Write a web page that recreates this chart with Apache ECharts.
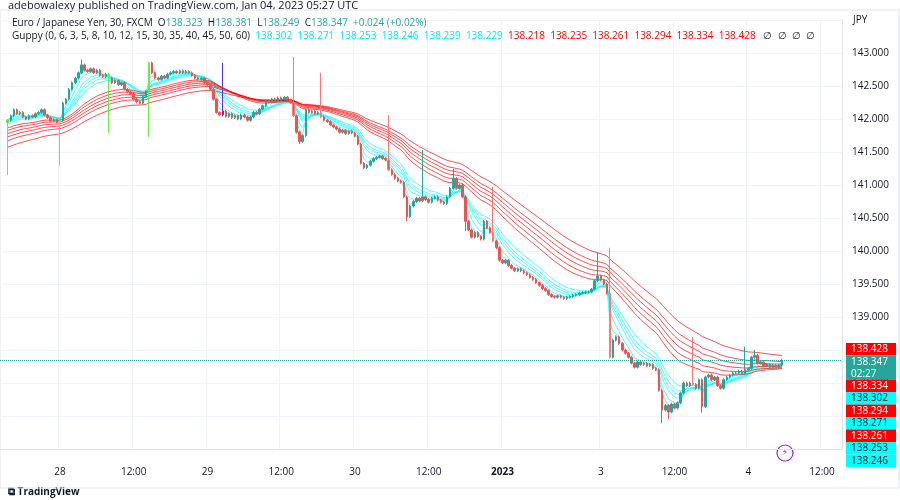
<!doctype html>
<html>
<head>
<meta charset="UTF-8">
<script src="https://cdn.jsdelivr.net/npm/echarts@6/dist/echarts.min.js"></script>
<style>body{margin:0;background:#fff}#chart{width:900px;height:500px}</style>
</head>
<body>
<div id="chart"></div>
<script>
// 30-minute closes (index 0 = first candle on the left)
var closes = [
 141.98,142.05,142.14,142.08,142.10,142.03,142.00,142.05,142.03,142.08,
 142.10,142.14,142.06,142.02,141.97,141.99,141.95,141.98,142.24,142.30,
 142.45,142.55,142.62,142.70,142.82,142.74,142.72,142.76,142.70,142.74,
 142.66,142.64,142.68,142.62,142.55,142.58,142.52,142.55,142.45,142.41,
 142.38,142.30,142.26,142.24,142.34,142.42,142.85,142.70,142.62,142.60,
 142.65,142.62,142.68,142.70,142.72,142.70,142.73,142.70,142.72,142.70,
 142.66,142.62,142.60,142.62,142.55,142.52,142.45,142.30,142.10,142.06,
 142.12,142.04,142.08,142.02,142.05,142.00,142.06,142.03,141.98,142.03,
 142.10,142.08,142.15,142.20,142.28,142.26,142.30,142.28,142.32,142.30,
 142.33,142.29,142.25,142.05,141.80,141.66,141.75,142.14,142.10,142.12,
 142.08,142.10,142.03,141.98,141.96,141.91,141.88,141.85,141.80,141.83,
 141.78,141.82,141.79,141.74,141.62,141.33,141.26,141.30,141.36,141.40,
 141.42,141.44,141.40,141.38,141.23,141.16,141.10,141.06,141.04,140.82,
 140.52,140.68,140.75,140.80,140.76,140.82,140.78,140.74,140.80,140.82,
 140.77,140.74,140.72,140.82,140.95,141.10,140.95,141.00,140.82,140.45,
 140.32,140.21,140.28,140.22,140.18,140.45,140.35,140.28,140.15,140.05,
 139.86,139.82,139.86,139.78,139.74,139.70,139.73,139.70,139.67,139.64,
 139.60,139.57,139.52,139.48,139.43,139.40,139.34,139.31,139.30,139.32,
 139.30,139.28,139.30,139.31,139.33,139.34,139.36,139.37,139.38,139.38,
 139.42,139.55,139.62,139.56,139.50,139.36,138.39,138.65,138.70,138.60,
 138.50,138.45,138.39,138.30,138.24,138.32,138.28,138.30,138.26,138.28,
 138.22,138.20,137.89,137.59,137.66,137.56,137.68,137.62,137.70,137.85,
 138.00,137.96,138.00,137.98,137.92,138.05,137.64,138.09,138.12,138.05,
 138.09,137.96,137.92,138.05,138.09,138.12,138.15,138.15,138.18,138.14,
 138.20,138.22,138.39,138.42,138.30,138.32,138.26,138.28,138.24,138.27,
 138.24,138.27,138.347
];
var firstOpen = 141.95;
// long wicks: [index, price]
var highWicks = [[24,142.90],[46,142.87],[70,142.85],[93,142.94],[102,142.70],[124,142.06],
  [135,141.53],[145,141.25],[158,140.97],[192,139.98],[196,140.05],[223,138.70],[240,138.55],[243,138.50]];
var lowWicks = [[0,141.15],[17,141.29],[33,141.79],[46,141.73],[95,141.62],[130,140.45],
  [213,137.39],[215,137.45],[226,137.55],[149,140.30]];
// bars painted in a special colour on the reference
var greenBars = [0, 17, 33, 46];
var purpleBars = [70];
var xTicks = [[17,'28'],[41,'12:00'],[65,'29'],[89,'12:00'],[113,'30'],[137,'12:00'],
  [161,'2023'],[193,'3'],[217,'12:00'],[241,'4'],[265,'12:00']];
var fastPeriods = [3,5,8,10,12,15];
var slowPeriods = [30,35,40,45,50,60];
// EMA values just before the first visible candle (history off-screen)
var fastSeed = [142.00,142.00,141.98,141.96,141.94,141.92];
var slowSeed = [141.86,141.82,141.77,141.72,141.66,141.56];
var tags = [['138.428','#ff0000','#fff'],['138.347\n02:27','#26a69a','#fff'],['138.334','#ff0000','#fff'],
  ['138.302','#00ffff','#131722'],['138.294','#ff0000','#fff'],['138.271','#00ffff','#131722'],
  ['138.261','#ff0000','#fff'],['138.253','#00ffff','#131722'],['138.246','#00ffff','#131722']];

var lead = 2;   // empty slots before first candle
var nCat = 274;
var cats = [];
var tickMap = {};
xTicks.forEach(function (t) { tickMap[t[0] + lead] = t[1]; });
for (var i = 0; i < nCat; i++) cats.push(tickMap[i] || '');

var hiMap = {}, loMap = {};
highWicks.forEach(function (w) { hiMap[w[0]] = w[1]; });
lowWicks.forEach(function (w) { loMap[w[0]] = w[1]; });

var candles = [];
for (var i = 0; i < lead; i++) candles.push('-');
for (var i = 0; i < closes.length; i++) {
  var o = i === 0 ? firstOpen : closes[i - 1];
  var c = closes[i];
  var h = hiMap[i] || Math.max(o, c) + 0.02;
  var l = loMap[i] || Math.min(o, c) - 0.02;
  var item = { value: [o, c, l, h] };
  if (greenBars.indexOf(i) >= 0) item.itemStyle = { color: '#26a69a', borderColor: '#66ee44', color0: '#66ee44', borderColor0: '#66ee44' };
  else if (purpleBars.indexOf(i) >= 0) item.itemStyle = { color: '#5533ee', color0: '#5533ee', borderColor: '#5533ee', borderColor0: '#5533ee' };
  else if (hiMap[i] && c < o) item.itemStyle = { borderColor0: '#f77' };
  candles.push(item);
}

function ema(period, seed) {
  var k = 2 / (period + 1), v = seed, out = [];
  for (var i = 0; i < lead; i++) out.push('-');
  closes.forEach(function (c) { v = c * k + v * (1 - k); out.push(+v.toFixed(4)); });
  return out;
}

var series = [{
  type: 'candlestick',
  data: candles,
  barWidth: '65%',
  itemStyle: { color: '#26a69a', color0: '#ef5350', borderColor: '#26a69a', borderColor0: '#ef5350' },
  markLine: {
    symbol: 'none', silent: true,
    lineStyle: { color: '#26a69a', type: 'dotted', width: 1 },
    label: { show: false },
    data: [{ yAxis: closes[closes.length - 1] }]
  },
  z: 3
}];
fastPeriods.forEach(function (p, j) {
  series.push({ type: 'line', data: ema(p, fastSeed[j]), showSymbol: false, silent: true,
    lineStyle: { color: '#00ffff', width: 1, opacity: 0.7 }, z: 2 });
});
slowPeriods.forEach(function (p, j) {
  series.push({ type: 'line', data: ema(p, slowSeed[j]), showSymbol: false, silent: true,
    lineStyle: { color: '#ff0000', width: 1, opacity: 0.7 }, z: 2 });
});

var graphics = [
  { type: 'text', left: 8, top: 0, style: { text: 'adebowalexy published on TradingView.com, Jan 04, 2023 05:27 UTC', fill: '#131722', font: '11px "Open Sans"' } },
  { type: 'text', left: 12, top: 18, z: 10, style: { text: '{t|Euro / Japanese Yen, 30, FXCM  O}{v|138.323}{t|  H}{v|138.381}{t|  L}{v|138.249}{t|  C}{v|138.347}{v|  +0.024 (+0.02%)}',
    rich: { t: { fill: '#131722', font: '10px "Open Sans"' }, v: { fill: '#26a69a', font: '10px "Open Sans"' } } } },
  { type: 'text', left: 12, top: 31, z: 10, style: { text: '{t|Guppy (0, 6, 3, 5, 8, 10, 12, 15, 30, 35, 40, 45, 50, 60)  }{c|138.302  138.271  138.253  138.246  138.239  138.229  }{r|138.218  138.235  138.261  138.294  138.334  138.428}{t|   ∅  ∅  ∅  ∅}',
    rich: { t: { fill: '#131722', font: '10px "Open Sans"' }, c: { fill: '#00e5ff', font: '10px "Open Sans"' }, r: { fill: '#ff0000', font: '10px "Open Sans"' } } } },
  { type: 'text', left: 853, top: 15, style: { text: 'JPY', fill: '#131722', font: '10px "Open Sans"' } },
  { type: 'text', left: 8, top: 487, style: { text: '⧉ TradingView', fill: '#131722', font: 'bold 10px "Open Sans"' } },
  { type: 'circle', shape: { cx: 785, cy: 453, r: 8 }, style: { fill: '#fff', stroke: '#9c27b0', lineWidth: 1.2 } },
  { type: 'text', x: 785, y: 453, style: { text: '⚡', fill: '#9c27b0', font: '9px "DejaVu Sans"', align: 'center', verticalAlign: 'middle' } },
  { type: 'rect', shape: { x: 0, y: 10, width: 899, height: 478 }, style: { fill: 'none', stroke: '#e0e3eb', lineWidth: 1 }, silent: true }
];
var ty = 343;
tags.forEach(function (t) {
  var hgt = t[0].indexOf('\n') >= 0 ? 24 : 12.5;
  graphics.push({ type: 'rect', shape: { x: 846, y: ty, width: 50, height: hgt }, style: { fill: t[1] }, z: 20 });
  graphics.push({ type: 'text', left: 851, top: ty + 0.5, z: 21, style: { text: t[0], fill: t[2], font: '10px "Open Sans"', lineHeight: 12 } });
  ty += hgt;
});

var chart = echarts.init(document.getElementById('chart'));
chart.setOption({
  animation: false,
  backgroundColor: '#fff',
  grid: { left: 0, right: 58, top: 20, bottom: 51 },
  xAxis: {
    type: 'category', data: cats, boundaryGap: true,
    axisLine: { lineStyle: { color: '#e0e3eb' } },
    axisTick: { show: false },
    axisLabel: {
      interval: function (i) { return tickMap[i] !== undefined; },
      color: '#131722', fontSize: 10, fontFamily: 'Open Sans', margin: 18,
      formatter: function (v) { return v === '2023' ? '{b|2023}' : v; },
      rich: { b: { fontWeight: 'bold', fontSize: 10, color: '#131722' } }
    },
    splitLine: { show: true, interval: function (i) { return tickMap[i] !== undefined; }, lineStyle: { color: '#f0f3fa' } }
  },
  yAxis: {
    type: 'value', position: 'right', min: 137, max: 143.5, interval: 0.5,
    axisLine: { show: true, lineStyle: { color: '#e0e3eb' } },
    axisLabel: { color: '#131722', fontSize: 10, fontFamily: 'Open Sans', margin: 10,
      formatter: function (v) { return v >= 143.5 ? '' : v.toFixed(3); } },
    splitLine: { lineStyle: { color: '#f0f3fa' } }
  },
  series: series,
  graphic: graphics
});
</script>
</body>
</html>
